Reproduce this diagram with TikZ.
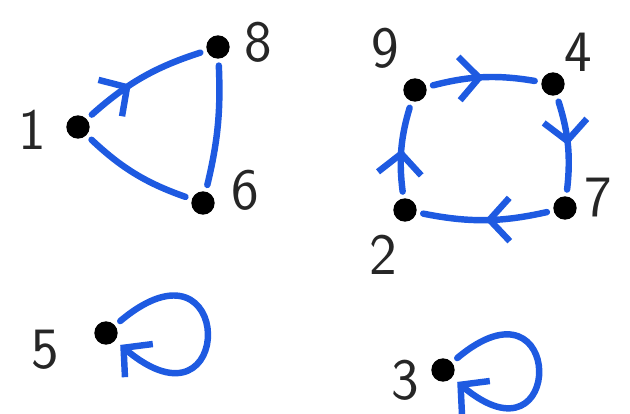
\documentclass[tikz,border=0pt]{standalone}
\usetikzlibrary{arrows.meta,positioning,decorations.markings}
\definecolor{pen}{RGB}{30,90,225}
\tikzset{
  vtx/.style={circle,fill=black,inner sep=0pt,minimum size=0.7cm},
  lbl/.style={font=\sffamily\fontsize{50}{52}\selectfont,text=black!85,inner sep=0pt},
  edg/.style={draw=pen,line width=5.5pt,line cap=round,shorten <=0.2cm,shorten >=0.2cm},
  midarr/.style={edg,postaction={decorate},
    decoration={markings,mark=at position #1 with {\arrow[pen,line width=5.5pt]{Straight Barb[length=0.6cm,width=1.3cm]}}}},
  midarr/.default=0.5,
  loopedg/.style={edg,-{Straight Barb[length=0.6cm,width=1.3cm]}}
}
\begin{document}
\begin{tikzpicture}[x=0.03cm,y=-0.03cm]
  \useasboundingbox (0,0) rectangle (630,414);

  % Triangle
  \node[vtx] (n1) at (78,127) {};
  \node[vtx] (n8) at (218,47) {};
  \node[vtx] (n6) at (203,203) {};

  % Cycle
  \node[vtx] (n9) at (415,90) {};
  \node[vtx] (n4) at (553,84) {};
  \node[vtx] (n7) at (565,208) {};
  \node[vtx] (n2) at (405,210) {};

  % Loops
  \node[vtx] (n5) at (106,333) {};
  \node[vtx] (n3) at (443,370) {};

  % Labels
  \node[lbl] (l1) at (32,130) {1};
  \node[lbl] (l8) at (258,42) {8};
  \node[lbl] (l6) at (245,190) {6};
  \node[lbl] (l9) at (385,48) {9};
  \node[lbl] (l4) at (578,52) {4};
  \node[lbl] (l7) at (598,198) {7};
  \node[lbl] (l2) at (383,255) {2};
  \node[lbl] (l5) at (45,350) {5};
  \node[lbl] (l3) at (405,380) {3};

  \draw[midarr=0.4] (n1) to[bend left=12] (n8);
  \draw[edg] (n8) to[bend left=8] (n6);
  \draw[edg] (n1) to[bend right=12] (n6);

  \draw[midarr] (n9) to[bend left=12] (n4);
  \draw[midarr] (n4) to[bend left=12] (n7);
  \draw[midarr] (n7) to[bend left=12] (n2);
  \draw[midarr] (n2) to[bend left=12] (n9);

  \draw[loopedg] (n5) .. controls +(40:5.1cm) and +(-40:5.1cm) .. (n5);
  \draw[loopedg] (n3) .. controls +(40:4.8cm) and +(-40:4.8cm) .. (n3);
\end{tikzpicture}
\end{document}
